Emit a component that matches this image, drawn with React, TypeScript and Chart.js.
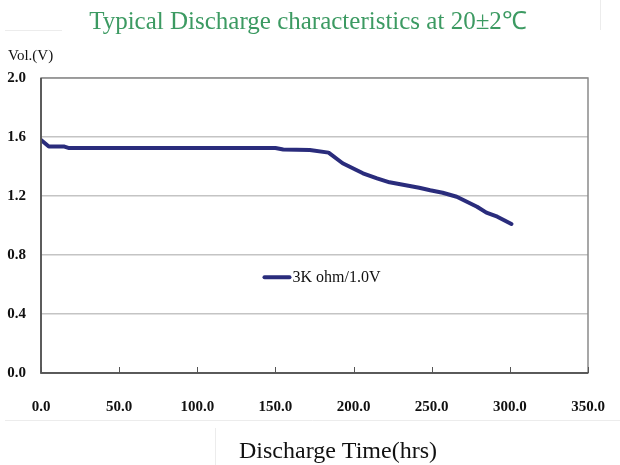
import React, { useEffect, useRef } from "react";
import { Chart, registerables } from "chart.js";

Chart.register(...registerables);

const hours = [0, 5, 15, 18, 60, 100, 150, 155, 172, 184, 193, 206, 215, 223, 242, 249, 257, 266, 279, 285, 292, 301];
const volts = [1.58, 1.535, 1.535, 1.525, 1.525, 1.525, 1.525, 1.515, 1.512, 1.494, 1.422, 1.354, 1.32, 1.293, 1.256, 1.239, 1.222, 1.195, 1.127, 1.087, 1.06, 1.01];
const xTicks = [0, 50, 100, 150, 200, 250, 300, 350];
const yTicks = [0, 0.4, 0.8, 1.2, 1.6, 2.0];

const titleText = "Typical Discharge characteristics at 20\u00b12\u2103";
const yAxisTitle = "Vol.(V)";
const xAxisTitle = "Discharge Time(hrs)";
const seriesLabel = "3K ohm/1.0V";
const LINE_COLOR = "#2a2c7c";

const decorPlugin = {
  id: "decor",
  beforeDraw(chart: any) {
    const ctx = chart.ctx;
    ctx.save();
    ctx.fillStyle = "#ffffff";
    ctx.fillRect(0, 0, chart.width, chart.height);
    ctx.strokeStyle = "#ececec";
    ctx.lineWidth = 1;
    ctx.beginPath();
    ctx.moveTo(5, 420.5);
    ctx.lineTo(620, 420.5);
    ctx.moveTo(215.5, 428);
    ctx.lineTo(215.5, 465);
    ctx.moveTo(5, 30.5);
    ctx.lineTo(62, 30.5);
    ctx.moveTo(600.5, 0);
    ctx.lineTo(600.5, 30);
    ctx.stroke();
    ctx.restore();
  },
  afterDraw(chart: any) {
    const ctx = chart.ctx;
    const xs = chart.scales.x;
    const ys = chart.scales.y;
    const area = chart.chartArea;
    ctx.save();
    ctx.strokeStyle = "#8a8a8a";
    ctx.lineWidth = 1.5;
    ctx.strokeRect(area.left, area.top, area.right - area.left, area.bottom - area.top);
    ctx.strokeStyle = "#444";
    ctx.beginPath();
    ctx.moveTo(area.left, area.top);
    ctx.lineTo(area.left, area.bottom);
    ctx.lineTo(area.right, area.bottom);
    ctx.stroke();
    ctx.lineWidth = 1;
    ctx.strokeStyle = "#555";
    ctx.beginPath();
    for (const t of xTicks) {
      const px = Math.round(xs.getPixelForValue(t)) + 0.5;
      ctx.moveTo(px, area.bottom);
      ctx.lineTo(px, area.bottom - 6);
    }
    ctx.stroke();
    ctx.fillStyle = "#3c9a62";
    ctx.font = "25px 'Liberation Serif'";
    ctx.textAlign = "center";
    ctx.textBaseline = "middle";
    ctx.fillText(titleText, 308, 22);
    ctx.fillStyle = "#111";
    ctx.font = "15px 'Liberation Serif'";
    ctx.textAlign = "left";
    ctx.fillText(yAxisTitle, 8, 56);
    ctx.font = "24px 'Liberation Serif'";
    ctx.textAlign = "center";
    ctx.fillText(xAxisTitle, 338, 452);
    const lx = xs.getPixelForValue(143);
    const ly = ys.getPixelForValue(0.65);
    ctx.strokeStyle = LINE_COLOR;
    ctx.lineWidth = 4;
    ctx.lineCap = "round";
    ctx.beginPath();
    ctx.moveTo(lx, ly);
    ctx.lineTo(lx + 25, ly);
    ctx.stroke();
    ctx.fillStyle = "#111";
    ctx.font = "16px 'Liberation Serif'";
    ctx.textAlign = "left";
    ctx.fillText(seriesLabel, lx + 28, ly + 1);
    ctx.restore();
  },
};

export default function App() {
  const ref = useRef<HTMLCanvasElement | null>(null);
  useEffect(() => {
    document.body.style.margin = "0";
    const canvas = ref.current!;
    const chart = new Chart(canvas, {
      type: "line",
      data: {
        datasets: [
          {
            label: seriesLabel,
            data: hours.map((h, i) => ({ x: h, y: volts[i] })),
            borderColor: LINE_COLOR,
            backgroundColor: LINE_COLOR,
            borderWidth: 4,
            pointRadius: 0,
            tension: 0,
            borderCapStyle: "round",
            borderJoinStyle: "round",
          },
        ],
      },
      options: {
        animation: false,
        responsive: false,
        layout: { padding: { top: 78, right: 32, left: 0, bottom: 0 } },
        plugins: { legend: { display: false }, tooltip: { enabled: false }, title: { display: false } },
        scales: {
          x: {
            type: "linear",
            min: 0,
            max: 350,
            afterFit: (s: any) => { s.height = 92; s.paddingRight = 0; s.paddingLeft = 0; },
            afterBuildTicks: (s: any) => { s.ticks = xTicks.map((v) => ({ value: v })); },
            grid: { display: false, drawTicks: false },
            border: { display: false },
            ticks: {
              padding: 25,
              color: "#111",
              font: { family: "'Liberation Serif'", size: 15, weight: "bold" },
              callback: (v: any) => Number(v).toFixed(1),
              maxRotation: 0,
            },
          },
          y: {
            min: 0,
            max: 2,
            afterFit: (s: any) => { s.width = 41; s.paddingTop = 0; s.paddingBottom = 0; },
            afterBuildTicks: (s: any) => { s.ticks = yTicks.map((v) => ({ value: v })); },
            grid: { color: "#c4c4c4", lineWidth: 1.5, drawTicks: false },
            border: { display: false },
            ticks: {
              padding: 15,
              color: "#111",
              font: { family: "'Liberation Serif'", size: 15, weight: "bold" },
              callback: (v: any) => Number(v).toFixed(1),
            },
          },
        },
      },
      plugins: [decorPlugin],
    } as any);
    return () => chart.destroy();
  }, []);
  return <canvas ref={ref} width={620} height={465} style={{ display: "block" }} />;
}
